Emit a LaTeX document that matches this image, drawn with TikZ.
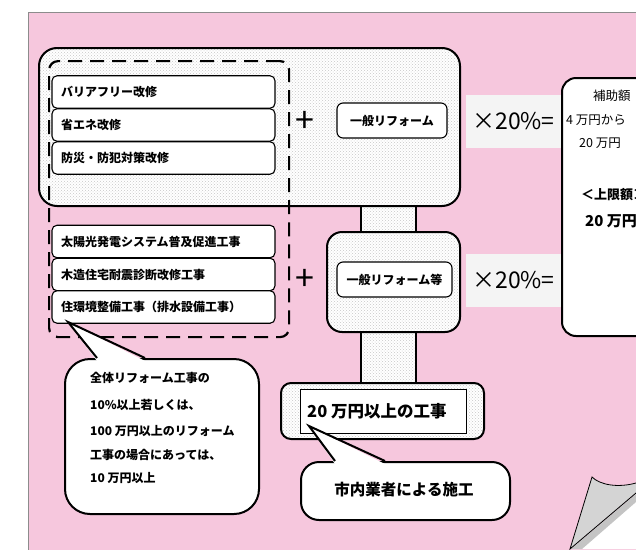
\documentclass[tikz,border=0pt]{standalone}
\usepackage{fontspec}
\setmainfont{Noto Sans CJK JP}
\usetikzlibrary{patterns}
\definecolor{bgpink}{RGB}{246,199,221}
\definecolor{pctbg}{RGB}{244,244,244}
\definecolor{curlgray}{RGB}{212,212,212}
\definecolor{shadowgray}{RGB}{196,196,196}
\definecolor{framegray}{RGB}{140,140,140}
\tikzset{
  dotfill/.style={preaction={fill=white}, pattern=crosshatch dots, pattern color=black!22},
  bigbox/.style={dotfill, draw=black, line width=2pt, rounded corners=18pt, anchor=north west, inner sep=0pt},
  dashbox/.style={draw=black, line width=2.2pt, dash pattern=on 14pt off 8pt, rounded corners=9pt, anchor=north west, inner sep=0pt},
  itembox/.style={draw=black, fill=white, line width=1.1pt, rounded corners=5pt, minimum height=32.5pt, text width=205pt, inner xsep=9pt, inner ysep=0pt, align=left, font=\fontsize{12}{14}\selectfont\bfseries},
  refbox/.style={draw=black, fill=white, line width=1.1pt, rounded corners=6pt, inner sep=0pt, minimum height=35pt, font=\fontsize{12}{14}\selectfont\bfseries},
  plussign/.style={font=\fontsize{34}{34}\selectfont, inner sep=0pt},
  pct/.style={fill=pctbg, minimum width=95pt, minimum height=53pt, inner sep=0pt, font=\fontsize{23}{23}\selectfont},
  resultbox/.style={draw=black, fill=white, line width=2pt, rounded corners=14pt, anchor=north west, inner sep=0pt},
  calloutbox/.style={draw=black, fill=white, line width=2pt, inner sep=0pt, anchor=north west},
  conn/.style={dotfill, draw=black, line width=2pt},
  restext/.style={anchor=west, inner sep=0pt, font=\fontsize{12.5}{14}\selectfont},
  resbold/.style={anchor=west, inner sep=0pt, font=\fontsize{13}{15}\selectfont\bfseries},
  calltext/.style={anchor=west, inner sep=0pt, font=\fontsize{12}{14}\selectfont\bfseries},
  tail/.style={draw=black, line width=2pt, line join=miter},
}
\begin{document}
\begin{tikzpicture}[x=1pt,y=-1pt]
\useasboundingbox (0,0) rectangle (636,549);
\clip (0,0) rectangle (636,549);
\fill[white] (0,0) rectangle (636,549);
\fill[bgpink] (28,12) rectangle (640,552);
\draw[framegray, line width=1pt] (28,552) -- (28,12) -- (640,12);
% connectors
\path[conn] (361,200) rectangle (416,235);
\path[conn] (361,327) rectangle (416,386);
% big boxes
\node[bigbox, minimum width=421pt, minimum height=158pt] (upper) at (38,47) {};
\node[bigbox, rounded corners=15pt, minimum width=133pt, minimum height=100pt] (lower) at (326,231) {};
\node[bigbox, rounded corners=10pt, minimum width=203pt, minimum height=56pt] (bottom) at (280,382) {};
\node[draw=black, fill=white, line width=1pt, minimum width=166pt, minimum height=44pt, anchor=north west, inner sep=0pt] (inner) at (300,389) {};
\node[anchor=west, inner sep=0pt, font=\fontsize{16.5}{18}\selectfont\bfseries] (kouji) at (307,411) {20 万円以上の工事};
% dashed group
\node[dashbox, minimum width=240pt, minimum height=276pt] (group) at (48,60) {};
% items
\node[itembox] (i1) at (163.5,92) {バリアフリー改修};
\node[itembox] (i2) at (163.5,125) {省エネ改修};
\node[itembox] (i3) at (163.5,158) {防災・防犯対策改修};
\node[itembox] (i4) at (163.5,241.5) {太陽光発電システム普及促進工事};
\node[itembox] (i5) at (163.5,274.5) {木造住宅耐震診断改修工事};
\node[itembox] (i6) at (163.5,307) {住環境整備工事（排水設備工事）};
% plus signs
\node[plussign] (p1) at (305,122) {+};
\node[plussign] (p2) at (305,280) {+};
% general reform boxes
\node[refbox, minimum width=110pt] (r1) at (392,120.5) {一般リフォーム};
\node[refbox, minimum width=115pt] (r2) at (394.5,279.5) {一般リフォーム等};
% x20%
\node[pct] (x1) at (513.5,121.5) {×20\%=};
\node[pct] (x2) at (513.5,280) {×20\%=};
% result box
\node[resultbox, minimum width=120pt, minimum height=258pt] (res) at (561,77) {};
\node[restext] (t1) at (593,96) {補助額};
\node[restext] (t2) at (566,120) {4 万円から};
\node[restext] (t3) at (579,143) {20 万円};
\node[resbold] (t4) at (581,195) {＜上限額＞};
\node[resbold, font=\fontsize{15}{17}\selectfont\bfseries] (t5) at (585,221) {20 万円};
% left callout
\node[calloutbox, rounded corners=25pt, minimum width=194pt, minimum height=155pt] (call1) at (64,358) {};
\coordinate (tip1) at (68,322);
\fill[white] (97,361) -- (tip1) -- (145,361) -- cycle;
\draw[tail] (97,358) -- (tip1) -- (145,358);
\node[calltext] (l1) at (90,378) {全体リフォーム工事の};
\node[calltext] (l2) at (90,405) {10\%以上若しくは、};
\node[calltext] (l3) at (90,431) {100 万円以上のリフォーム};
\node[calltext] (l4) at (90,455) {工事の場合にあっては、};
\node[calltext] (l5) at (90,478) {10 万円以上};
% bottom callout
\node[calloutbox, rounded corners=18pt, minimum width=209pt, minimum height=58pt] (call2) at (300,461) {};
\coordinate (tip2) at (309,426);
\fill[white] (335,464) -- (tip2) -- (385,464) -- cycle;
\draw[tail] (335,461) -- (tip2) -- (385,461);
\node[anchor=center, inner sep=0pt, font=\fontsize{15.5}{17}\selectfont\bfseries] (shinai) at (404,490) {市内業者による施工};
% page curl
\fill[white] (571,549) -- (636,494) -- (636,549) -- cycle;
\fill[shadowgray] (571,549) -- (636,494) -- (636,502) -- (582,549) -- cycle;
\filldraw[fill=curlgray, draw=black, line width=0.8pt] (636,493) -- (570,549) -- (592,477) .. controls (600,485) and (618,488) .. (636,483);
\end{tikzpicture}
\end{document}
